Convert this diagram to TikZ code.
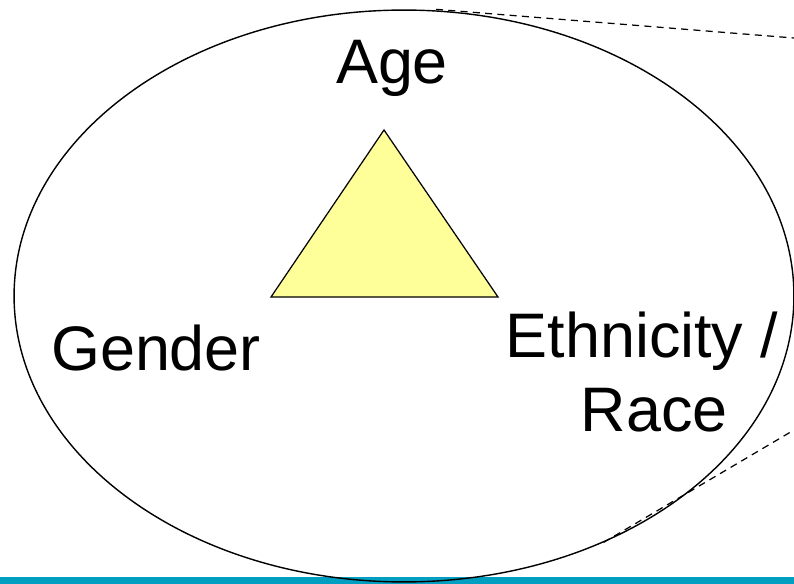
\documentclass[tikz,border=0pt]{standalone}
\usepackage{fontspec}
\setmainfont{Liberation Sans}
\usepackage{xcolor}
\usepackage{tikz}
\usetikzlibrary{positioning, shapes.geometric, calc}
\definecolor{barblue}{RGB}{0,159,194}
\definecolor{triyellow}{RGB}{255,255,153}

\begin{document}
\begin{tikzpicture}[
      x=0.02cm, y=-0.02cm,
      font=\fontsize{35.8}{42}\selectfont,
      label/.style={inner sep=0pt, align=center},
      group/.style={draw, ellipse, line width=0.8pt, inner sep=0pt,
                    minimum width=15.6cm, minimum height=11.44cm},
      zoomline/.style={dashed, line width=0.7pt, dash pattern=on 4pt off 3pt},
    ]
    % frame: picture is 794 x 584 px, y grows downwards
    \useasboundingbox (0,0) rectangle (794,584);
    \fill[barblue] (0,577) rectangle (794,584);

    % the grouping ellipse
    \node[group] (grp) at (404,296) {};

    % dashed zoom lines leaving the ellipse to the right
    \coordinate (zoomtop) at (794,38);
    \coordinate (zoombot) at (794,430);
    \draw[zoomline] (grp.north) ++(32,0) coordinate (gtop) -- (zoomtop);
    \draw[zoomline] (grp.-51) -- (zoombot);

    % triangle
    \coordinate (apex) at (384,130);
    \coordinate (bleft) at (271,297);
    \coordinate (bright) at (498,297);
    \draw[fill=triyellow, line width=0.7pt] (apex) -- (bleft) -- (bright) -- cycle;

    % corner labels
    \node[label, anchor=base] (age) at (392,84) {Age};
    \node[label, anchor=base] (gender) at (156,370) {Gender};
    \node[label] (ethn) at (642,372) {Ethnicity /\\\hspace*{14pt}Race};
\end{tikzpicture}
\end{document}
